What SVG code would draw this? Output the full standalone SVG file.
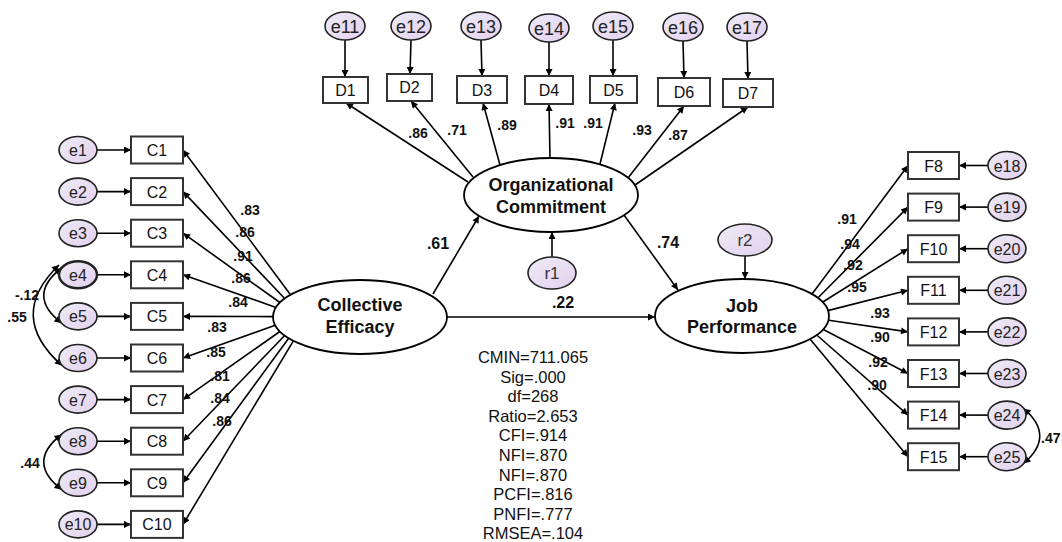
<svg xmlns="http://www.w3.org/2000/svg" width="1062" height="542" viewBox="0 0 1062 542">
<defs>
<linearGradient id="eg" x1="0" y1="0" x2="1" y2="1">
<stop offset="0" stop-color="#ecebf6"/>
<stop offset="1" stop-color="#e4d0ee"/>
</linearGradient>
<marker id="ah" viewBox="0 0 10 10" refX="10" refY="5" markerWidth="9" markerHeight="7" markerUnits="userSpaceOnUse" orient="auto-start-reverse">
<path d="M0,0 L10,5 L0,10 z" fill="#000"/>
</marker>
<style>
.err{fill:url(#eg);stroke:#222;stroke-width:1.6}
.box{fill:#fff;stroke:#333;stroke-width:2}
.lat{fill:#fff;stroke:#000;stroke-width:1.8}
.lbl{font-family:"Liberation Sans",Arial,sans-serif;font-size:16px;fill:#111;text-anchor:middle}
.el{font-family:"Liberation Sans",Arial,sans-serif;font-size:16px;fill:#222;text-anchor:middle}
.et{font-family:"Liberation Sans",Arial,sans-serif;font-size:18px;fill:#222;text-anchor:middle}
.ln{font-family:"Liberation Sans",Arial,sans-serif;font-size:18px;font-weight:bold;fill:#111;text-anchor:middle}
.ld{font-family:"Liberation Sans",Arial,sans-serif;font-size:14px;font-weight:bold;fill:#111;text-anchor:middle}
.ls{font-family:"Liberation Sans",Arial,sans-serif;font-size:16px;font-weight:bold;fill:#111;text-anchor:middle}
.st{font-family:"Liberation Sans",Arial,sans-serif;font-size:16.5px;fill:#111;text-anchor:middle}
.c{fill:none;stroke:#000;stroke-width:1.6;marker-end:url(#ah)}
.cv{fill:none;stroke:#000;stroke-width:1.6;marker-end:url(#ah);marker-start:url(#ah)}
</style>
</defs>
<rect width="1062" height="542" fill="#fff"/>

<g id="connectors">
<line class="c" x1="97" y1="150" x2="131" y2="150"/>
<line class="c" x1="97" y1="191.6" x2="131" y2="191.6"/>
<line class="c" x1="97" y1="233.2" x2="131" y2="233.2"/>
<line class="c" x1="97" y1="274.8" x2="131" y2="274.8"/>
<line class="c" x1="97" y1="316.4" x2="131" y2="316.4"/>
<line class="c" x1="97" y1="358" x2="131" y2="358"/>
<line class="c" x1="97" y1="399.6" x2="131" y2="399.6"/>
<line class="c" x1="97" y1="441.2" x2="131" y2="441.2"/>
<line class="c" x1="97" y1="482.8" x2="131" y2="482.8"/>
<line class="c" x1="97" y1="524.4" x2="131" y2="524.4"/>
<line class="c" x1="290.5" y1="294.7" x2="183" y2="150"/>
<line class="c" x1="284.7" y1="298.5" x2="183" y2="191.6"/>
<line class="c" x1="279.9" y1="302.5" x2="183" y2="233.2"/>
<line class="c" x1="276" y1="307.4" x2="183" y2="274.8"/>
<line class="c" x1="273" y1="316.6" x2="183" y2="316.4"/>
<line class="c" x1="275.2" y1="325.3" x2="183" y2="358"/>
<line class="c" x1="279.9" y1="331.5" x2="183" y2="399.6"/>
<line class="c" x1="284.7" y1="335.5" x2="183" y2="441.2"/>
<line class="c" x1="288.7" y1="338.2" x2="183" y2="482.8"/>
<line class="c" x1="293.4" y1="340.8" x2="183" y2="524.4"/>
<path class="cv" d="M61.5 268 Q26 295.6 61.5 323"/>
<path class="cv" d="M59 265 Q6 316 62 365.5"/>
<path class="cv" d="M61.5 434.5 Q26 462 61.5 489.5"/>
<line class="c" x1="345" y1="40" x2="345" y2="77"/>
<line class="c" x1="411" y1="40" x2="410" y2="74"/>
<line class="c" x1="481" y1="40" x2="482" y2="76"/>
<line class="c" x1="549" y1="42" x2="549" y2="76"/>
<line class="c" x1="613" y1="40" x2="613" y2="76"/>
<line class="c" x1="683" y1="41" x2="684" y2="78"/>
<line class="c" x1="747" y1="41" x2="748" y2="79"/>
<line class="c" x1="468" y1="182" x2="346" y2="103"/>
<line class="c" x1="473" y1="177" x2="411" y2="101"/>
<line class="c" x1="500" y1="165" x2="483" y2="103"/>
<line class="c" x1="550" y1="158" x2="549" y2="104"/>
<line class="c" x1="600" y1="164" x2="615" y2="103"/>
<line class="c" x1="628" y1="178" x2="684" y2="106"/>
<line class="c" x1="635" y1="185" x2="748" y2="107"/>
<line class="c" x1="433" y1="294" x2="479" y2="216"/>
<line class="c" x1="447" y1="317" x2="655" y2="317"/>
<line class="c" x1="624" y1="215" x2="678" y2="290"/>
<line class="c" x1="552" y1="257" x2="552" y2="232"/>
<line class="c" x1="745" y1="256" x2="745" y2="279"/>
<line class="c" x1="811.5" y1="294.7" x2="908" y2="165.5"/>
<line class="c" x1="817.3" y1="298.5" x2="908" y2="207.1"/>
<line class="c" x1="822" y1="302.5" x2="908" y2="248.7"/>
<line class="c" x1="827.7" y1="310.6" x2="908" y2="290.3"/>
<line class="c" x1="828.7" y1="320.2" x2="908" y2="331.9"/>
<line class="c" x1="823.8" y1="329.7" x2="908" y2="373.5"/>
<line class="c" x1="817.3" y1="335.5" x2="908" y2="415.1"/>
<line class="c" x1="810.6" y1="339.8" x2="908" y2="456.7"/>
<line class="c" x1="988" y1="165.5" x2="959" y2="165.5"/>
<line class="c" x1="988" y1="207.1" x2="959" y2="207.1"/>
<line class="c" x1="988" y1="248.7" x2="959" y2="248.7"/>
<line class="c" x1="988" y1="290.3" x2="959" y2="290.3"/>
<line class="c" x1="988" y1="331.9" x2="959" y2="331.9"/>
<line class="c" x1="988" y1="373.5" x2="959" y2="373.5"/>
<line class="c" x1="988" y1="415.1" x2="959" y2="415.1"/>
<line class="c" x1="988" y1="456.7" x2="959" y2="456.7"/>
<path class="cv" d="M1023.5 408.4 Q1056 436 1023.5 463.4"/>
</g>

<g id="labels">
<text class="ld" x="250" y="215">.83</text>
<text class="ld" x="245" y="237">.86</text>
<text class="ld" x="243" y="261">.91</text>
<text class="ld" x="241" y="283">.86</text>
<text class="ld" x="238" y="307">.84</text>
<text class="ld" x="217" y="332">.83</text>
<text class="ld" x="216" y="357">.85</text>
<text class="ld" x="220" y="381">.81</text>
<text class="ld" x="220" y="403">.84</text>
<text class="ld" x="222" y="426">.86</text>
<text class="ld" x="27" y="300">-.12</text>
<text class="ld" x="17" y="322">.55</text>
<text class="ld" x="30" y="468">.44</text>
<text class="ld" x="418" y="138">.86</text>
<text class="ld" x="457" y="135">.71</text>
<text class="ld" x="507" y="130">.89</text>
<text class="ld" x="565" y="128">.91</text>
<text class="ld" x="593" y="128">.91</text>
<text class="ld" x="642" y="135">.93</text>
<text class="ld" x="678" y="140">.87</text>
<text class="ls" x="438" y="249">.61</text>
<text class="ls" x="563" y="308">.22</text>
<text class="ls" x="668" y="248">.74</text>
<text class="ld" x="847" y="224">.91</text>
<text class="ld" x="850" y="249">.94</text>
<text class="ld" x="853" y="270">.92</text>
<text class="ld" x="857" y="292">.95</text>
<text class="ld" x="880" y="318">.93</text>
<text class="ld" x="880" y="342">.90</text>
<text class="ld" x="878" y="367">.92</text>
<text class="ld" x="877" y="390">.90</text>
<text class="ld" x="1041" y="443" style="text-anchor:start">.47</text>
</g>

<g id="stats">
<text class="st" x="533" y="363">CMIN=711.065</text>
<text class="st" x="533" y="382.6">Sig=.000</text>
<text class="st" x="533" y="402.2">df=268</text>
<text class="st" x="533" y="421.8">Ratio=2.653</text>
<text class="st" x="533" y="441.4">CFI=.914</text>
<text class="st" x="533" y="461">NFI=.870</text>
<text class="st" x="533" y="480.6">NFI=.870</text>
<text class="st" x="533" y="500.2">PCFI=.816</text>
<text class="st" x="533" y="519.8">PNFI=.777</text>
<text class="st" x="533" y="539.4">RMSEA=.104</text>
</g>

<g id="CE"><ellipse class="lat" cx="360" cy="317" rx="87" ry="37"/><text class="ln" x="360" y="311">Collective</text><text class="ln" x="360" y="333">Efficacy</text></g>
<g id="OC"><ellipse class="lat" cx="551" cy="195" rx="87" ry="37"/><text class="ln" x="551" y="191">Organizational</text><text class="ln" x="551" y="213">Commitment</text></g>
<g id="JP"><ellipse class="lat" cx="742" cy="316" rx="87" ry="37"/><text class="ln" x="742" y="312">Job</text><text class="ln" x="742" y="333">Performance</text></g>
<g id="r1"><ellipse class="err" cx="552" cy="273" rx="24" ry="16"/><text class="el" x="552" y="279" style="font-size:17px;fill:#333">r1</text></g>
<g id="r2"><ellipse class="err" cx="745" cy="240" rx="27" ry="16"/><text class="el" x="745" y="246" style="font-size:17px;fill:#333">r2</text></g>

<g id="e1"><ellipse class="err" cx="78" cy="150" rx="19" ry="13.5"/><text class="el" x="78" y="156">e1</text></g>
<g id="e2"><ellipse class="err" cx="78" cy="191.6" rx="19" ry="13.5"/><text class="el" x="78" y="197.6">e2</text></g>
<g id="e3"><ellipse class="err" cx="78" cy="233.2" rx="19" ry="13.5"/><text class="el" x="78" y="239.2">e3</text></g>
<g id="e4"><ellipse class="err" cx="78" cy="274.8" rx="19" ry="13.5" style="stroke-width:2.4"/><text class="el" x="78" y="280.8">e4</text></g>
<g id="e5"><ellipse class="err" cx="78" cy="316.4" rx="19" ry="13.5"/><text class="el" x="78" y="322.4">e5</text></g>
<g id="e6"><ellipse class="err" cx="78" cy="358" rx="19" ry="13.5"/><text class="el" x="78" y="364">e6</text></g>
<g id="e7"><ellipse class="err" cx="78" cy="399.6" rx="19" ry="13.5"/><text class="el" x="78" y="405.6">e7</text></g>
<g id="e8"><ellipse class="err" cx="78" cy="441.2" rx="19" ry="13.5"/><text class="el" x="78" y="447.2">e8</text></g>
<g id="e9"><ellipse class="err" cx="78" cy="482.8" rx="19" ry="13.5"/><text class="el" x="78" y="488.8">e9</text></g>
<g id="e10"><ellipse class="err" cx="78" cy="524.4" rx="19" ry="13.5"/><text class="el" x="78" y="530.4">e10</text></g>

<g id="C1"><rect class="box" x="131" y="136.5" width="52" height="27"/><text class="lbl" x="157" y="156">C1</text></g>
<g id="C2"><rect class="box" x="131" y="178.1" width="52" height="27"/><text class="lbl" x="157" y="197.6">C2</text></g>
<g id="C3"><rect class="box" x="131" y="219.7" width="52" height="27"/><text class="lbl" x="157" y="239.2">C3</text></g>
<g id="C4"><rect class="box" x="131" y="261.3" width="52" height="27"/><text class="lbl" x="157" y="280.8">C4</text></g>
<g id="C5"><rect class="box" x="131" y="302.9" width="52" height="27"/><text class="lbl" x="157" y="322.4">C5</text></g>
<g id="C6"><rect class="box" x="131" y="344.5" width="52" height="27"/><text class="lbl" x="157" y="364">C6</text></g>
<g id="C7"><rect class="box" x="131" y="386.1" width="52" height="27"/><text class="lbl" x="157" y="405.6">C7</text></g>
<g id="C8"><rect class="box" x="131" y="427.7" width="52" height="27"/><text class="lbl" x="157" y="447.2">C8</text></g>
<g id="C9"><rect class="box" x="131" y="469.3" width="52" height="27"/><text class="lbl" x="157" y="488.8">C9</text></g>
<g id="C10"><rect class="box" x="131" y="510.9" width="52" height="27"/><text class="lbl" x="157" y="530.4">C10</text></g>

<g id="e11"><ellipse class="err" cx="345" cy="26" rx="20" ry="14"/><text class="et" x="345" y="32.5">e11</text></g>
<g id="e12"><ellipse class="err" cx="411" cy="26" rx="20" ry="14"/><text class="et" x="411" y="32.5">e12</text></g>
<g id="e13"><ellipse class="err" cx="481" cy="26" rx="20" ry="14"/><text class="et" x="481" y="32.5">e13</text></g>
<g id="e14"><ellipse class="err" cx="549" cy="28" rx="20" ry="14"/><text class="et" x="549" y="34.5">e14</text></g>
<g id="e15"><ellipse class="err" cx="613" cy="26" rx="20" ry="14"/><text class="et" x="613" y="32.5">e15</text></g>
<g id="e16"><ellipse class="err" cx="683" cy="27" rx="20" ry="14"/><text class="et" x="683" y="33.5">e16</text></g>
<g id="e17"><ellipse class="err" cx="747" cy="27" rx="20" ry="14"/><text class="et" x="747" y="33.5">e17</text></g>

<g id="D1"><rect class="box" x="323" y="77" width="45" height="26"/><text class="lbl" x="345.5" y="96">D1</text></g>
<g id="D2"><rect class="box" x="387" y="74" width="45" height="27"/><text class="lbl" x="409.5" y="93">D2</text></g>
<g id="D3"><rect class="box" x="457" y="76" width="50" height="27"/><text class="lbl" x="482" y="95.5">D3</text></g>
<g id="D4"><rect class="box" x="525" y="76" width="48" height="28"/><text class="lbl" x="549" y="96">D4</text></g>
<g id="D5"><rect class="box" x="590" y="76" width="47" height="27"/><text class="lbl" x="613.5" y="95.5">D5</text></g>
<g id="D6"><rect class="box" x="658" y="78" width="52" height="28"/><text class="lbl" x="684" y="98">D6</text></g>
<g id="D7"><rect class="box" x="723" y="79" width="50" height="28"/><text class="lbl" x="748" y="99">D7</text></g>

<g id="F8"><rect class="box" x="908" y="152" width="51" height="27"/><text class="lbl" x="933.5" y="171.5">F8</text></g>
<g id="F9"><rect class="box" x="908" y="193.6" width="51" height="27"/><text class="lbl" x="933.5" y="213.1">F9</text></g>
<g id="F10"><rect class="box" x="908" y="235.2" width="51" height="27"/><text class="lbl" x="933.5" y="254.7">F10</text></g>
<g id="F11"><rect class="box" x="908" y="276.8" width="51" height="27"/><text class="lbl" x="933.5" y="296.3">F11</text></g>
<g id="F12"><rect class="box" x="908" y="318.4" width="51" height="27"/><text class="lbl" x="933.5" y="337.9">F12</text></g>
<g id="F13"><rect class="box" x="908" y="360" width="51" height="27"/><text class="lbl" x="933.5" y="379.5">F13</text></g>
<g id="F14"><rect class="box" x="908" y="401.6" width="51" height="27"/><text class="lbl" x="933.5" y="421.1">F14</text></g>
<g id="F15"><rect class="box" x="908" y="443.2" width="51" height="27"/><text class="lbl" x="933.5" y="462.7">F15</text></g>

<g id="e18"><ellipse class="err" cx="1007" cy="165.5" rx="19" ry="14"/><text class="el" x="1007" y="171.5">e18</text></g>
<g id="e19"><ellipse class="err" cx="1007" cy="207.1" rx="19" ry="14"/><text class="el" x="1007" y="213.1">e19</text></g>
<g id="e20"><ellipse class="err" cx="1007" cy="248.7" rx="19" ry="14"/><text class="el" x="1007" y="254.7">e20</text></g>
<g id="e21"><ellipse class="err" cx="1007" cy="290.3" rx="19" ry="14"/><text class="el" x="1007" y="296.3">e21</text></g>
<g id="e22"><ellipse class="err" cx="1007" cy="331.9" rx="19" ry="14"/><text class="el" x="1007" y="337.9">e22</text></g>
<g id="e23"><ellipse class="err" cx="1007" cy="373.5" rx="19" ry="14"/><text class="el" x="1007" y="379.5">e23</text></g>
<g id="e24"><ellipse class="err" cx="1007" cy="415.1" rx="19" ry="14"/><text class="el" x="1007" y="421.1">e24</text></g>
<g id="e25"><ellipse class="err" cx="1007" cy="456.7" rx="19" ry="14"/><text class="el" x="1007" y="462.7">e25</text></g>
</svg>
